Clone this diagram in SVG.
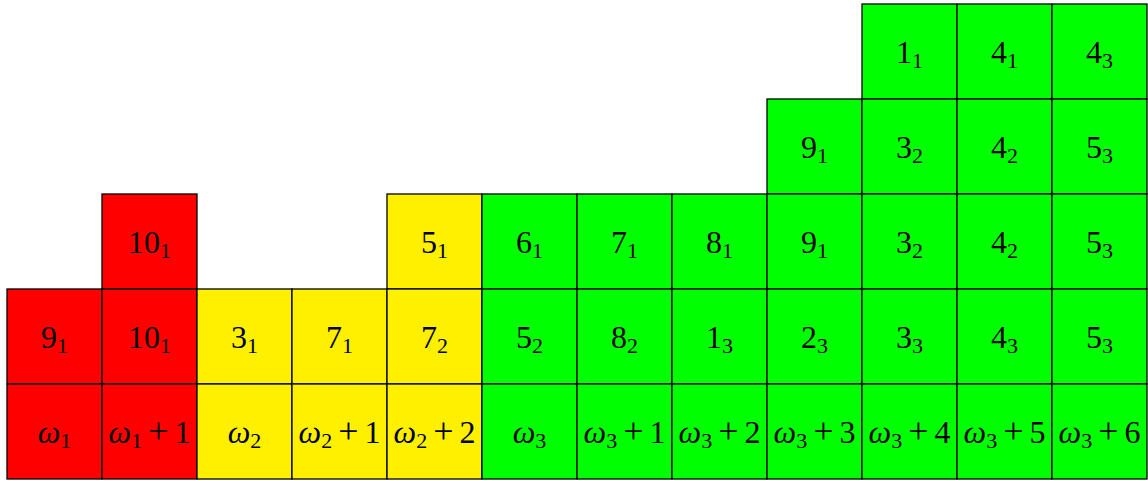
<svg xmlns="http://www.w3.org/2000/svg" width="1148" height="481" viewBox="0 0 1148 481">
<style>
rect{stroke:#000;stroke-width:1.3}
rect.bg{stroke:none;fill:#fff}
.r{fill:#FF0000}.y{fill:#FFF000}.g{fill:#00FF00}
text{font-family:"Liberation Serif","DejaVu Serif",serif;font-size:32px;text-anchor:middle;fill:#000}
.s{font-size:22px}
.i{font-style:italic}
.p{font-size:36px}
</style>
<rect class="bg" width="1148" height="481"/>
<!-- row 0 -->
<g id="c0-9"><rect class="g" x="862" y="4" width="95" height="95"/><text x="909.5" y="63">1<tspan class="s" dy="5">1</tspan></text></g>
<g id="c0-10"><rect class="g" x="957" y="4" width="95" height="95"/><text x="1004.5" y="63">4<tspan class="s" dy="5">1</tspan></text></g>
<g id="c0-11"><rect class="g" x="1052" y="4" width="95" height="95"/><text x="1099.5" y="63">4<tspan class="s" dy="5">3</tspan></text></g>
<!-- row 1 -->
<g id="c1-8"><rect class="g" x="767" y="99" width="95" height="95"/><text x="814.5" y="158">9<tspan class="s" dy="5">1</tspan></text></g>
<g id="c1-9"><rect class="g" x="862" y="99" width="95" height="95"/><text x="909.5" y="158">3<tspan class="s" dy="5">2</tspan></text></g>
<g id="c1-10"><rect class="g" x="957" y="99" width="95" height="95"/><text x="1004.5" y="158">4<tspan class="s" dy="5">2</tspan></text></g>
<g id="c1-11"><rect class="g" x="1052" y="99" width="95" height="95"/><text x="1099.5" y="158">5<tspan class="s" dy="5">3</tspan></text></g>
<!-- row 2 -->
<g id="c2-1"><rect class="r" x="102" y="194" width="95" height="95"/><text x="149.5" y="253">10<tspan class="s" dy="5">1</tspan></text></g>
<g id="c2-4"><rect class="y" x="387" y="194" width="95" height="95"/><text x="434.5" y="253">5<tspan class="s" dy="5">1</tspan></text></g>
<g id="c2-5"><rect class="g" x="482" y="194" width="95" height="95"/><text x="529.5" y="253">6<tspan class="s" dy="5">1</tspan></text></g>
<g id="c2-6"><rect class="g" x="577" y="194" width="95" height="95"/><text x="624.5" y="253">7<tspan class="s" dy="5">1</tspan></text></g>
<g id="c2-7"><rect class="g" x="672" y="194" width="95" height="95"/><text x="719.5" y="253">8<tspan class="s" dy="5">1</tspan></text></g>
<g id="c2-8"><rect class="g" x="767" y="194" width="95" height="95"/><text x="814.5" y="253">9<tspan class="s" dy="5">1</tspan></text></g>
<g id="c2-9"><rect class="g" x="862" y="194" width="95" height="95"/><text x="909.5" y="253">3<tspan class="s" dy="5">2</tspan></text></g>
<g id="c2-10"><rect class="g" x="957" y="194" width="95" height="95"/><text x="1004.5" y="253">4<tspan class="s" dy="5">2</tspan></text></g>
<g id="c2-11"><rect class="g" x="1052" y="194" width="95" height="95"/><text x="1099.5" y="253">5<tspan class="s" dy="5">3</tspan></text></g>
<!-- row 3 -->
<g id="c3-0"><rect class="r" x="7" y="289" width="95" height="95"/><text x="54.5" y="348">9<tspan class="s" dy="5">1</tspan></text></g>
<g id="c3-1"><rect class="r" x="102" y="289" width="95" height="95"/><text x="149.5" y="348">10<tspan class="s" dy="5">1</tspan></text></g>
<g id="c3-2"><rect class="y" x="197" y="289" width="95" height="95"/><text x="244.5" y="348">3<tspan class="s" dy="5">1</tspan></text></g>
<g id="c3-3"><rect class="y" x="292" y="289" width="95" height="95"/><text x="339.5" y="348">7<tspan class="s" dy="5">1</tspan></text></g>
<g id="c3-4"><rect class="y" x="387" y="289" width="95" height="95"/><text x="434.5" y="348">7<tspan class="s" dy="5">2</tspan></text></g>
<g id="c3-5"><rect class="g" x="482" y="289" width="95" height="95"/><text x="529.5" y="348">5<tspan class="s" dy="5">2</tspan></text></g>
<g id="c3-6"><rect class="g" x="577" y="289" width="95" height="95"/><text x="624.5" y="348">8<tspan class="s" dy="5">2</tspan></text></g>
<g id="c3-7"><rect class="g" x="672" y="289" width="95" height="95"/><text x="719.5" y="348">1<tspan class="s" dy="5">3</tspan></text></g>
<g id="c3-8"><rect class="g" x="767" y="289" width="95" height="95"/><text x="814.5" y="348">2<tspan class="s" dy="5">3</tspan></text></g>
<g id="c3-9"><rect class="g" x="862" y="289" width="95" height="95"/><text x="909.5" y="348">3<tspan class="s" dy="5">3</tspan></text></g>
<g id="c3-10"><rect class="g" x="957" y="289" width="95" height="95"/><text x="1004.5" y="348">4<tspan class="s" dy="5">3</tspan></text></g>
<g id="c3-11"><rect class="g" x="1052" y="289" width="95" height="95"/><text x="1099.5" y="348">5<tspan class="s" dy="5">3</tspan></text></g>
<!-- row 4 -->
<g id="c4-0"><rect class="r" x="7" y="384" width="95" height="95"/><text x="54.5" y="443"><tspan class="i">ω</tspan><tspan class="s" dy="5">1</tspan></text></g>
<g id="c4-1"><rect class="r" x="102" y="384" width="95" height="95"/><text x="149.5" y="443"><tspan class="i">ω</tspan><tspan class="s" dy="5">1</tspan><tspan class="p" dy="-5" dx="6">+</tspan><tspan dx="6">1</tspan></text></g>
<g id="c4-2"><rect class="y" x="197" y="384" width="95" height="95"/><text x="244.5" y="443"><tspan class="i">ω</tspan><tspan class="s" dy="5">2</tspan></text></g>
<g id="c4-3"><rect class="y" x="292" y="384" width="95" height="95"/><text x="339.5" y="443"><tspan class="i">ω</tspan><tspan class="s" dy="5">2</tspan><tspan class="p" dy="-5" dx="6">+</tspan><tspan dx="6">1</tspan></text></g>
<g id="c4-4"><rect class="y" x="387" y="384" width="95" height="95"/><text x="434.5" y="443"><tspan class="i">ω</tspan><tspan class="s" dy="5">2</tspan><tspan class="p" dy="-5" dx="6">+</tspan><tspan dx="6">2</tspan></text></g>
<g id="c4-5"><rect class="g" x="482" y="384" width="95" height="95"/><text x="529.5" y="443"><tspan class="i">ω</tspan><tspan class="s" dy="5">3</tspan></text></g>
<g id="c4-6"><rect class="g" x="577" y="384" width="95" height="95"/><text x="624.5" y="443"><tspan class="i">ω</tspan><tspan class="s" dy="5">3</tspan><tspan class="p" dy="-5" dx="6">+</tspan><tspan dx="6">1</tspan></text></g>
<g id="c4-7"><rect class="g" x="672" y="384" width="95" height="95"/><text x="719.5" y="443"><tspan class="i">ω</tspan><tspan class="s" dy="5">3</tspan><tspan class="p" dy="-5" dx="6">+</tspan><tspan dx="6">2</tspan></text></g>
<g id="c4-8"><rect class="g" x="767" y="384" width="95" height="95"/><text x="814.5" y="443"><tspan class="i">ω</tspan><tspan class="s" dy="5">3</tspan><tspan class="p" dy="-5" dx="6">+</tspan><tspan dx="6">3</tspan></text></g>
<g id="c4-9"><rect class="g" x="862" y="384" width="95" height="95"/><text x="909.5" y="443"><tspan class="i">ω</tspan><tspan class="s" dy="5">3</tspan><tspan class="p" dy="-5" dx="6">+</tspan><tspan dx="6">4</tspan></text></g>
<g id="c4-10"><rect class="g" x="957" y="384" width="95" height="95"/><text x="1004.5" y="443"><tspan class="i">ω</tspan><tspan class="s" dy="5">3</tspan><tspan class="p" dy="-5" dx="6">+</tspan><tspan dx="6">5</tspan></text></g>
<g id="c4-11"><rect class="g" x="1052" y="384" width="95" height="95"/><text x="1099.5" y="443"><tspan class="i">ω</tspan><tspan class="s" dy="5">3</tspan><tspan class="p" dy="-5" dx="6">+</tspan><tspan dx="6">6</tspan></text></g>
<g id="connectors"></g>
</svg>
